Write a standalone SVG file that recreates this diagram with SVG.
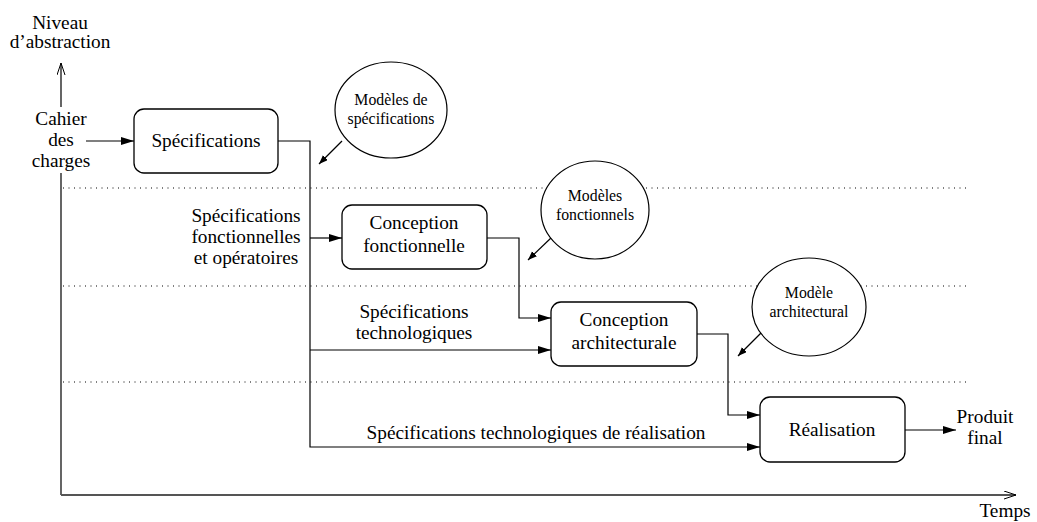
<svg xmlns="http://www.w3.org/2000/svg" width="1037" height="522" viewBox="0 0 1037 522">
<defs>
<style>
text{font-family:"Liberation Serif","Times New Roman",Times,serif;font-size:19.3px;fill:#000;text-anchor:middle}
.sm{font-size:15.8px}
.box{fill:#fff;stroke:#000;stroke-width:1.3}
.circ{fill:#fff;stroke:#000;stroke-width:1.2}
.ln{fill:none;stroke:#000;stroke-width:1.2}
.axis{fill:none;stroke:#555;stroke-width:1.8}
.dot{fill:none;stroke:#000;stroke-width:1;stroke-dasharray:1 4.5}
</style>
<marker id="ah" markerWidth="14" markerHeight="10" refX="13" refY="4" orient="auto" markerUnits="userSpaceOnUse">
<path d="M0,0 L13,4 L0,8 Z" fill="#000"/>
</marker>
<marker id="sh" markerWidth="10" markerHeight="8" refX="9" refY="3.5" orient="auto" markerUnits="userSpaceOnUse">
<path d="M0,0 L9,3.5 L0,7 Z" fill="#000"/>
</marker>
<marker id="oh" markerWidth="14" markerHeight="10" refX="12" refY="4" orient="auto" markerUnits="userSpaceOnUse">
<path d="M0,0 L12,4 L0,8" fill="none" stroke="#000" stroke-width="1"/>
</marker>
</defs>
<rect width="1037" height="522" fill="#fff"/>
<g id="guides">
<line class="dot" x1="63" y1="188" x2="966" y2="188"/>
<line class="dot" x1="63" y1="286" x2="966" y2="286"/>
<line class="dot" x1="63" y1="382" x2="966" y2="382"/>
</g>
<g id="axes">
<line class="axis" x1="61" y1="107" x2="61" y2="63" marker-end="url(#oh)"/>
<line class="axis" x1="61" y1="173" x2="61" y2="495"/>
<line class="axis" x1="61" y1="495" x2="1016" y2="495" marker-end="url(#oh)"/>
<text x="60" y="29">Niveau</text>
<text x="60" y="48">d’abstraction</text>
<text x="1005" y="517">Temps</text>
</g>
<g id="connectors">
<line class="ln" x1="86" y1="141" x2="134" y2="141" marker-end="url(#ah)"/>
<polyline class="ln" points="278,141 310,141 310,447 760,447" marker-end="url(#ah)"/>
<line class="ln" x1="310" y1="238" x2="342" y2="238" marker-end="url(#ah)"/>
<line class="ln" x1="310" y1="350" x2="551" y2="350" marker-end="url(#ah)"/>
<polyline class="ln" points="487,238 519,238 519,318 551,318" marker-end="url(#ah)"/>
<polyline class="ln" points="697,334 728,334 728,415 760,415" marker-end="url(#ah)"/>
<line class="ln" x1="905" y1="430" x2="956" y2="430" marker-end="url(#ah)"/>
<line class="ln" x1="342" y1="141" x2="319" y2="164" marker-end="url(#sh)"/>
<line class="ln" x1="552" y1="237" x2="528" y2="260" marker-end="url(#sh)"/>
<line class="ln" x1="761" y1="333" x2="738" y2="356" marker-end="url(#sh)"/>
<text x="246" y="222">Spécifications</text>
<text x="246" y="243">fonctionnelles</text>
<text x="246" y="264">et opératoires</text>
<text x="414" y="318">Spécifications</text>
<text x="414" y="339">technologiques</text>
<text x="536" y="439">Spécifications technologiques de réalisation</text>
</g>
<g id="cahier">
<text x="61" y="125">Cahier</text>
<text x="61" y="146">des</text>
<text x="61" y="167">charges</text>
</g>
<g id="specifications">
<rect class="box" x="134" y="109" width="144" height="64" rx="10"/>
<text x="206" y="147">Spécifications</text>
</g>
<g id="conception-fonctionnelle">
<rect class="box" x="342" y="205" width="145" height="64" rx="10"/>
<text x="414" y="229">Conception</text>
<text x="414" y="252">fonctionnelle</text>
</g>
<g id="conception-architecturale">
<rect class="box" x="551" y="302" width="146" height="64" rx="10"/>
<text x="624" y="326">Conception</text>
<text x="624" y="349">architecturale</text>
</g>
<g id="realisation">
<rect class="box" x="760" y="397" width="145" height="65" rx="10"/>
<text x="832" y="436">Réalisation</text>
</g>
<g id="produit-final">
<text x="985" y="423">Produit</text>
<text x="985" y="444">final</text>
</g>
<g id="modeles-specifications">
<ellipse class="circ" cx="391" cy="110" rx="56" ry="48"/>
<text class="sm" x="391" y="105">Modèles de</text>
<text class="sm" x="391" y="124">spécifications</text>
</g>
<g id="modeles-fonctionnels">
<ellipse class="circ" cx="595" cy="210" rx="54" ry="49"/>
<text class="sm" x="595" y="201">Modèles</text>
<text class="sm" x="595" y="220">fonctionnels</text>
</g>
<g id="modele-architectural">
<ellipse class="circ" cx="809" cy="307" rx="57" ry="49"/>
<text class="sm" x="809" y="298">Modèle</text>
<text class="sm" x="809" y="317">architectural</text>
</g>
</svg>
